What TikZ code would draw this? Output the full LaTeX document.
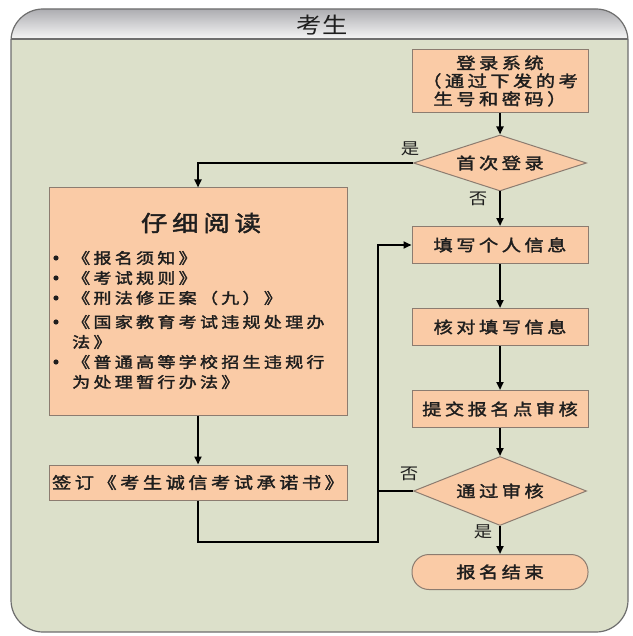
\documentclass[tikz,border=0pt]{standalone}
\usepackage{fontspec}
\newfontfamily\cjk{Noto Sans CJK SC}[FakeStretch=1.2, LetterSpace=22, FakeBold=2]
\newfontfamily\cjkplain{Noto Sans CJK SC}[FakeStretch=1.15]
\usepackage{tikz}
\usetikzlibrary{shapes, arrows.meta, positioning}
\definecolor{panel}{HTML}{DCE0CA}
\definecolor{headtop}{HTML}{ADADB1}
\definecolor{headbot}{HTML}{F6F6F6}
\definecolor{frameline}{HTML}{6E6E6E}
\definecolor{boxfill}{HTML}{FACBA6}
\definecolor{boxline}{HTML}{8C7C70}
\definecolor{ink}{HTML}{1E1E1E}

\begin{document}
\begin{tikzpicture}[x=1pt, y=-1pt, on grid, node distance=82pt,
    proc/.style={rectangle, draw=boxline, fill=boxfill, line width=1pt, inner sep=0pt,
      minimum width=176pt, minimum height=37pt, text=ink, font=\cjk\fontsize{16}{18}\selectfont},
    decision/.style={diamond, aspect=3, draw=boxline, fill=boxfill, line width=1pt, inner sep=0pt,
      minimum width=173pt, minimum height=56pt, text=ink, font=\cjk\fontsize{16}{18}\selectfont},
    terminal/.style={proc, rounded corners=17pt, minimum height=35pt},
    tag/.style={text=ink, inner sep=0pt, font=\cjkplain\fontsize{16}{18}\selectfont},
    entry/.style={text=ink, inner sep=0pt, anchor=west, font=\cjk\fontsize{15}{18}\selectfont},
    link/.style={draw=black, line width=2pt, -{Triangle[length=8pt,width=7pt]}},
    bar/.style={draw=black, line width=2pt}]
  \useasboundingbox (0,0) rectangle (632,636);
  \fill[panel, rounded corners=32pt] (11,9) rectangle (628,632);
  \begin{scope}
    \clip[rounded corners=32pt] (11,9) rectangle (628,632);
    \shade[top color=headtop, bottom color=headbot] (11,9) rectangle (628,39);
  \end{scope}
  \draw[frameline, line width=1.2pt] (11,39) -- (628,39);
  \draw[frameline, line width=1.2pt, rounded corners=32pt] (11,9) rectangle (628,632);
  \node[text=ink, font=\cjkplain\fontsize{22}{24}\selectfont] (title) at (322,25) {考生};

  \node[proc, minimum height=63pt, align=center] (login) at (500,81) {登录系统\\（通过下发的考\\生号和密码）};
  \node[decision]                     (first)  [below=of login]       {首次登录};
  \node[proc]                         (fill)   [below=of first]       {填写个人信息};
  \node[proc]                         (check)  [below=of fill]        {核对填写信息};
  \node[proc]                         (submit) [below=of check]       {提交报名点审核};
  \node[decision, minimum height=69pt] (pass)  [below=of submit]      {通过审核};
  \node[terminal]                     (finish) [below=81pt of pass]   {报名结束};

  \node[proc, minimum width=298pt, minimum height=227pt] (read) at (198,301.5) {};
  \node[text=ink, font=\cjk\fontsize{22}{26}\selectfont] (readtitle) at (201,223) {仔细阅读};
  \foreach \y/\txt [count=\i] in {258/《报名须知》, 278/《考试规则》, 298/《刑法修正案（九）》,
      322/《国家教育考试违规处理办, 342/法》, 362/《普通高等学校招生违规行, 382/为处理暂行办法》}
    \node[entry] (line\i) at (72,\y) {\txt};
  \foreach \y in {258,278,298,322,362}
    \fill[ink] (56,\y) circle (2.6pt);
  \node[proc, minimum width=298pt, minimum height=35pt] (sign) [below=181pt of read] {签订《考生诚信考试承诺书》};

  \coordinate (jog) at (378,542);

  \draw[link] (login) -- (first);
  \draw[link] (first) -- node[tag, pos=0.2, xshift=-22pt] (no1) {否} (fill);
  \draw[link] (first.west) -| node[tag, pos=0, xshift=-3pt, yshift=14pt] (yes1) {是} (read.north);
  \draw[link] (fill) -- (check);
  \draw[link] (check) -- (submit);
  \draw[link] (submit) -- (pass);
  \draw[link] (pass) -- node[tag, pos=0.2, xshift=-17pt] (yes2) {是} (finish);
  \draw[bar] (pass.west) -- node[tag, pos=0, xshift=-4pt, yshift=17pt] (no2) {否} (pass.west -| jog);
  \draw[link] (read) -- (sign);
  \draw[link] (sign) |- (jog) |- (fill);
\end{tikzpicture}
\end{document}
